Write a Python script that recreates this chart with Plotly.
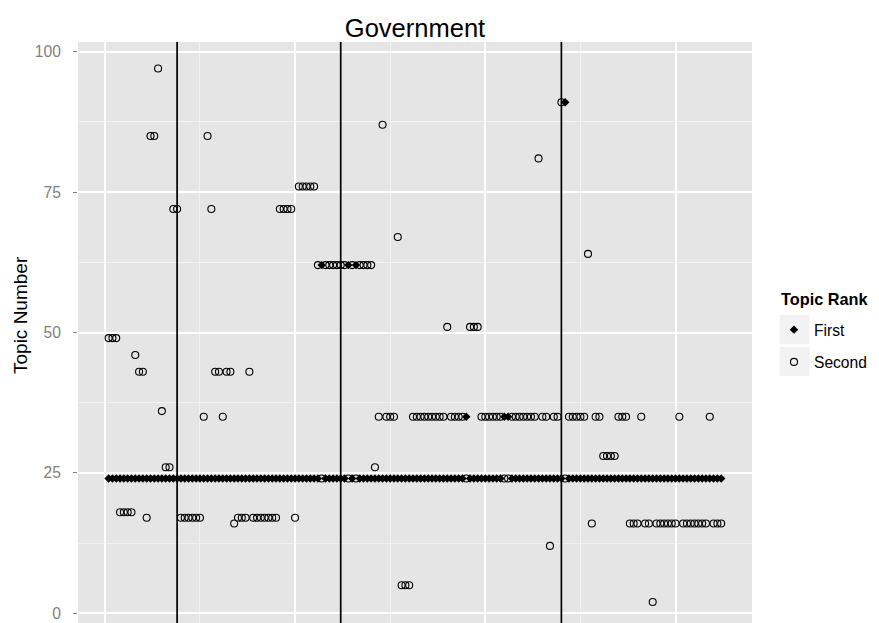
import plotly.graph_objects as go

# ---- data ----
doc_index = list(range(1, 163))

first_topic = [
    24, 24, 24, 24, 24, 24, 24, 24, 24, 24,
    24, 24, 24, 24, 24, 24, 24, 24, 24, 24,
    24, 24, 24, 24, 24, 24, 24, 24, 24, 24,
    24, 24, 24, 24, 24, 24, 24, 24, 24, 24,
    24, 24, 24, 24, 24, 24, 24, 24, 24, 24,
    24, 24, 24, 24, 24, 24, 62, 24, 24, 24,
    24, 24, 24, 62, 24, 62, 24, 24, 24, 24,
    24, 24, 24, 24, 24, 24, 24, 24, 24, 24,
    24, 24, 24, 24, 24, 24, 24, 24, 24, 24,
    24, 24, 24, 24, 35, 24, 24, 24, 24, 24,
    24, 24, 24, 24, 35, 35, 24, 24, 24, 24,
    24, 24, 24, 24, 24, 24, 24, 24, 24, 24,
    91, 24, 24, 24, 24, 24, 24, 24, 24, 24,
    24, 24, 24, 24, 24, 24, 24, 24, 24, 24,
    24, 24, 24, 24, 24, 24, 24, 24, 24, 24,
    24, 24, 24, 24, 24, 24, 24, 24, 24, 24,
    24, 24,
]

second_topic = [
    49, 49, 49, 18, 18, 18, 18, 46, 43, 43,
    17, 85, 85, 97, 36, 26, 26, 72, 72, 17,
    17, 17, 17, 17, 17, 35, 85, 72, 43, 43,
    35, 43, 43, 16, 17, 17, 17, 43, 17, 17,
    17, 17, 17, 17, 17, 72, 72, 72, 72, 17,
    76, 76, 76, 76, 76, 62, 24, 62, 62, 62,
    62, 62, 62, 24, 62, 24, 62, 62, 62, 62,
    26, 35, 87, 35, 35, 35, 67, 5, 5, 5,
    35, 35, 35, 35, 35, 35, 35, 35, 35, 51,
    35, 35, 35, 35, 24, 51, 51, 51, 35, 35,
    35, 35, 35, 35, 24, 24, 35, 35, 35, 35,
    35, 35, 35, 81, 35, 35, 12, 35, 35, 91,
    24, 35, 35, 35, 35, 35, 64, 16, 35, 35,
    28, 28, 28, 28, 35, 35, 35, 16, 16, 16,
    35, 16, 16, 2, 16, 16, 16, 16, 16, 16,
    35, 16, 16, 16, 16, 16, 16, 16, 35, 16,
    16, 16,
]

event_lines = [19, 62, 120]

y_ticks = [0, 25, 50, 75, 100]
y_tick_labels = ["0", "25", "50", "75", "100"]
series_names = ["First", "Second"]

# ---- layout geometry (page pixels; the page body has an 8px margin) ----
FONT = "Liberation Sans, Arial, Helvetica, sans-serif"
OFF = 8
W, H = 879 - OFF, 623 - OFF
ML, MT, MB = 78 - OFF, 42 - OFF, 0
MR = W - (752 - OFF)
PW, PH = W - ML - MR, H - MT - MB


def px_to_paper_x(page_px):
    return (page_px - OFF - ML) / PW


def px_to_paper_y(page_py):
    return (H - MB - (page_py - OFF)) / PH


fig = go.Figure()

fig.add_trace(go.Scatter(
    x=doc_index, y=first_topic, mode="markers", name=series_names[0],
    legendgroup="a",
    marker=dict(symbol="diamond", size=6.5, color="black",
                line=dict(width=0)),
))
fig.add_trace(go.Scatter(
    x=doc_index, y=second_topic, mode="markers", name=series_names[1],
    legendgroup="b",
    marker=dict(symbol="circle-open", size=7, color="black",
                line=dict(width=1.1, color="black")),
))

for v in event_lines:
    fig.add_vline(x=v, line=dict(color="black", width=1.7), layer="above")

# legend key backgrounds (ggplot style)
for (top, bot) in [(314.3, 344.5), (346.5, 376.7)]:
    fig.add_shape(type="rect", xref="paper", yref="paper",
                  x0=px_to_paper_x(779.3), x1=px_to_paper_x(810),
                  y0=px_to_paper_y(bot), y1=px_to_paper_y(top),
                  fillcolor="#F2F2F2", line=dict(color="white", width=1),
                  layer="below")

# legend title
fig.add_annotation(text="<b>Topic Rank</b>", xref="paper", yref="paper",
                   x=px_to_paper_x(779), y=px_to_paper_y(299),
                   xanchor="left", yanchor="middle", showarrow=False,
                   font=dict(size=16.3, family=FONT, color="black"))

# y-axis title
fig.add_annotation(text="Topic Number", xref="paper", yref="paper",
                   x=px_to_paper_x(20), y=px_to_paper_y(315),
                   xanchor="center", yanchor="middle", textangle=-90,
                   showarrow=False,
                   font=dict(size=19, family=FONT, color="black"))

fig.update_layout(
    width=W, height=H,
    margin=dict(l=ML, r=MR, t=MT, b=MB, pad=0),
    paper_bgcolor="white",
    plot_bgcolor="#E5E5E5",
    font=dict(family=FONT, color="black"),
    title=dict(text="Government", x=0.5, xref="paper", xanchor="center",
               y=1 - (28 - OFF) / H, yref="container", yanchor="middle",
               font=dict(size=25.5, family=FONT, color="black")),
    showlegend=True,
    legend=dict(
        x=px_to_paper_x(774), xanchor="left",
        y=px_to_paper_y(313), yanchor="top",
        bgcolor="rgba(0,0,0,0)",
        font=dict(size=15.6, family=FONT, color="black"),
        tracegroupgap=9,
        traceorder="grouped",
    ),
    xaxis=dict(
        range=[-7.05, 170.1],
        showticklabels=False,
        tickmode="array", tickvals=[0, 50, 100, 150],
        ticks="",
        showgrid=True, gridcolor="white", gridwidth=1.8,
        minor=dict(tickmode="array", tickvals=[25, 75, 125], showgrid=True,
                   gridcolor="#F2F2F2", gridwidth=1),
        zeroline=False, showline=False,
    ),
    yaxis=dict(
        range=[-1.73, 101.73],
        tickmode="array", tickvals=y_ticks, ticktext=y_tick_labels,
        ticks="outside", ticklen=4, tickcolor="#7F7F7F", tickwidth=1,
        ticklabelstandoff=9,
        tickfont=dict(size=15.6, family=FONT, color="#7F7F7F"),
        showgrid=True, gridcolor="white", gridwidth=1.8,
        minor=dict(tickmode="array", tickvals=[12.5, 37.5, 62.5, 87.5],
                   showgrid=True, gridcolor="#F2F2F2", gridwidth=1),
        zeroline=False, showline=False,
    ),
)

fig.write_html("out.html")
